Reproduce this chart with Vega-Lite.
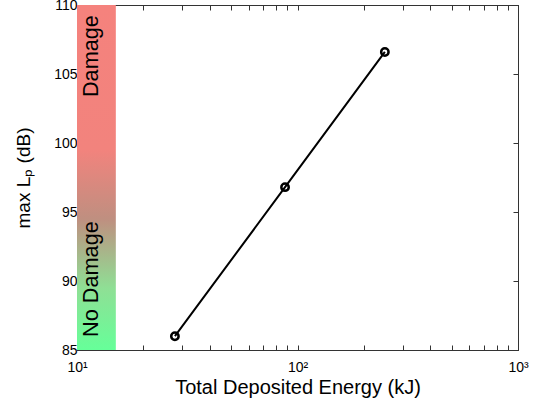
{
  "$schema": "https://vega.github.io/schema/vega-lite/v6.json",
  "width": 441,
  "height": 345,
  "autosize": {"type": "none"},
  "padding": {"left": 77, "top": 5, "right": 20, "bottom": 53},
  "background": "white",
  "config": {
    "font": "Liberation Sans",
    "view": {"stroke": "#333333", "strokeWidth": 1},
    "axis": {
      "grid": false,
      "domainColor": "#333333",
      "tickColor": "#333333",
      "labelColor": "black",
      "titleColor": "black",
      "labelFont": "Liberation Sans",
      "titleFont": "Liberation Sans",
      "labelFontSize": 14,
      "titleFontWeight": "normal",
      "tickSize": -5
    }
  },
  "resolve": {"axis": {"x": "independent", "y": "independent"}},
  "layer": [
    {
      "data": {"values": [{"x": 10, "x2": 15, "y": 85, "y2": 110}]},
      "mark": {
        "type": "rect",
        "fill": {
          "gradient": "linear",
          "x1": 0, "y1": 0, "x2": 0, "y2": 1,
          "stops": [
            {"offset": 0, "color": "#f5827d"},
            {"offset": 0.42, "color": "#f2837d"},
            {"offset": 0.62, "color": "#bf8f80"},
            {"offset": 0.82, "color": "#8fdf95"},
            {"offset": 1, "color": "#66ff99"}
          ]
        },
        "stroke": null
      },
      "encoding": {
        "x": {
          "field": "x", "type": "quantitative",
          "scale": {"type": "log", "domain": [10, 1000], "nice": false},
          "axis": {
            "orient": "bottom",
            "title": "Total Deposited Energy (kJ)",
            "titleFontSize": 20,
            "values": [10, 20, 30, 40, 50, 60, 70, 80, 90, 100, 200, 300, 400, 500, 600, 700, 800, 900, 1000],
            "labelExpr": "datum.value == 10 ? '10¹' : datum.value == 100 ? '10²' : datum.value == 1000 ? '10³' : ''",
            "labelPadding": 15,
            "titlePadding": 3,
            "labelFlush": false,
            "labelOverlap": false
          }
        },
        "x2": {"field": "x2"},
        "y": {
          "field": "y", "type": "quantitative",
          "scale": {"domain": [85, 110], "nice": false, "zero": false},
          "axis": {
            "orient": "left",
            "title": "max Lₚ (dB)",
            "titleFontSize": 19,
            "values": [85, 90, 95, 100, 105, 110],
            "labelPadding": 5,
            "titlePadding": 20
          }
        },
        "y2": {"field": "y2"}
      }
    },
    {
      "data": {"values": [
        {"label": "Damage", "x": 11.63, "y": 106.3},
        {"label": "No Damage", "x": 11.63, "y": 90.14}
      ]},
      "mark": {"type": "text", "angle": 270, "align": "center", "baseline": "middle", "fontSize": 21.7, "font": "Liberation Sans", "color": "black"},
      "encoding": {
        "x": {"field": "x", "type": "quantitative", "axis": null},
        "y": {"field": "y", "type": "quantitative", "axis": null},
        "text": {"field": "label"}
      }
    },
    {
      "data": {"values": [
        {"energy": 27.8, "lp": 86.0},
        {"energy": 87.8, "lp": 96.8},
        {"energy": 249, "lp": 106.6}
      ]},
      "mark": {"type": "line", "color": "black", "strokeWidth": 2},
      "encoding": {
        "x": {
          "field": "energy", "type": "quantitative",
          "axis": {
            "orient": "top", "title": null, "labels": false,
            "values": [10, 20, 30, 40, 50, 60, 70, 80, 90, 100, 200, 300, 400, 500, 600, 700, 800, 900, 1000]
          }
        },
        "y": {
          "field": "lp", "type": "quantitative",
          "axis": {"orient": "right", "title": null, "labels": false, "values": [85, 90, 95, 100, 105, 110]}
        }
      }
    },
    {
      "data": {"values": [
        {"energy": 27.8, "lp": 86.0},
        {"energy": 87.8, "lp": 96.8},
        {"energy": 249, "lp": 106.6}
      ]},
      "mark": {"type": "point", "shape": "circle", "filled": false, "color": "black", "strokeWidth": 2.5, "size": 55, "opacity": 1},
      "encoding": {
        "x": {"field": "energy", "type": "quantitative", "axis": null},
        "y": {"field": "lp", "type": "quantitative", "axis": null}
      }
    }
  ]
}
